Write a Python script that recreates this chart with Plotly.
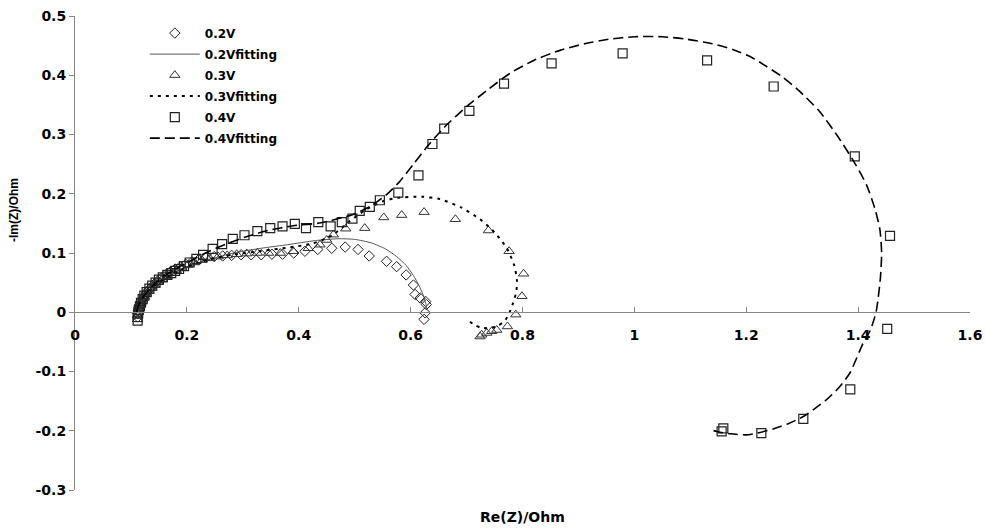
import plotly.graph_objects as go

# ---- measured impedance data (Re(Z), -Im(Z)) in Ohm ----
re_02 = [0.112, 0.112, 0.113, 0.114, 0.116, 0.118, 0.121, 0.124, 0.128, 0.132,
         0.137, 0.142, 0.148, 0.155, 0.162, 0.170, 0.179, 0.188, 0.198, 0.209,
         0.221, 0.234, 0.249, 0.264, 0.280, 0.297, 0.315, 0.333, 0.352, 0.371,
         0.391, 0.411, 0.434, 0.459, 0.483, 0.506, 0.526, 0.557, 0.575, 0.592,
         0.605, 0.608, 0.617, 0.627, 0.628, 0.626, 0.624]
im_02 = [-0.008, -0.002, 0.003, 0.008, 0.013, 0.018, 0.023, 0.028, 0.033, 0.038,
         0.043, 0.048, 0.053, 0.058, 0.063, 0.068, 0.073, 0.077, 0.081, 0.085,
         0.089, 0.092, 0.094, 0.095, 0.096, 0.097, 0.097, 0.097, 0.098, 0.098,
         0.100, 0.103, 0.106, 0.108, 0.110, 0.106, 0.095, 0.086, 0.077, 0.063,
         0.046, 0.030, 0.024, 0.018, 0.013, -0.001, -0.012]

re_03 = [0.112, 0.112, 0.113, 0.114, 0.116, 0.118, 0.121, 0.124, 0.128, 0.132,
         0.137, 0.143, 0.149, 0.156, 0.164, 0.172, 0.181, 0.191, 0.202, 0.214,
         0.227, 0.241, 0.256, 0.272, 0.289, 0.307, 0.326, 0.346, 0.367, 0.390,
         0.417, 0.438, 0.450, 0.462, 0.484, 0.518, 0.552, 0.584, 0.624, 0.680,
         0.739, 0.776, 0.802, 0.799, 0.788, 0.773, 0.754, 0.745, 0.736, 0.727,
         0.724]
im_03 = [-0.012, -0.006, 0.000, 0.006, 0.011, 0.016, 0.021, 0.026, 0.031, 0.036,
         0.041, 0.046, 0.051, 0.056, 0.061, 0.066, 0.071, 0.075, 0.080, 0.084,
         0.088, 0.091, 0.094, 0.096, 0.098, 0.099, 0.100, 0.100, 0.100, 0.103,
         0.108, 0.114, 0.122, 0.131, 0.141, 0.142, 0.160, 0.164, 0.169, 0.157,
         0.138, 0.103, 0.065, 0.027, -0.004, -0.024, -0.030, -0.032, -0.035, -0.038,
         -0.041]

re_04 = [0.112, 0.112, 0.113, 0.114, 0.116, 0.118, 0.121, 0.124, 0.128, 0.133,
         0.138, 0.144, 0.150, 0.157, 0.165, 0.172, 0.179, 0.186, 0.195, 0.205,
         0.217, 0.229, 0.246, 0.263, 0.282, 0.303, 0.326, 0.349, 0.371, 0.393,
         0.413, 0.435, 0.457, 0.477, 0.496, 0.509, 0.527, 0.545, 0.578, 0.614,
         0.639, 0.660, 0.705, 0.767, 0.852, 0.979, 1.130, 1.249, 1.394, 1.457,
         1.452, 1.386, 1.302, 1.227, 1.159, 1.156]
im_04 = [-0.014, -0.008, -0.002, 0.004, 0.010, 0.016, 0.022, 0.028, 0.034, 0.040,
         0.045, 0.050, 0.055, 0.059, 0.063, 0.066, 0.070, 0.073, 0.078, 0.084,
         0.090, 0.097, 0.107, 0.115, 0.124, 0.130, 0.137, 0.142, 0.145, 0.149,
         0.142, 0.152, 0.145, 0.152, 0.158, 0.171, 0.178, 0.189, 0.202, 0.231,
         0.284, 0.310, 0.340, 0.386, 0.420, 0.437, 0.425, 0.381, 0.263, 0.129,
         -0.028, -0.130, -0.180, -0.204, -0.196, -0.201]

# ---- equivalent-circuit fitting curves ----
re_fit02 = [0.110, 0.113, 0.118, 0.126, 0.136, 0.149, 0.165, 0.185, 0.210, 0.240,
            0.270, 0.300, 0.340, 0.380, 0.430, 0.470, 0.500, 0.530, 0.555, 0.575,
            0.592, 0.605, 0.615, 0.622, 0.627, 0.629]
im_fit02 = [0.000, 0.010, 0.020, 0.030, 0.040, 0.050, 0.060, 0.070, 0.080, 0.089,
            0.097, 0.103, 0.109, 0.114, 0.121, 0.124, 0.123, 0.117, 0.107, 0.094,
            0.079, 0.062, 0.045, 0.030, 0.015, 0.006]

re_fit03 = [0.110, 0.113, 0.118, 0.126, 0.136, 0.149, 0.165, 0.185, 0.210, 0.240,
            0.280, 0.330, 0.380, 0.425, 0.460, 0.486, 0.520, 0.550, 0.575, 0.620,
            0.652, 0.690, 0.724, 0.750, 0.772, 0.785, 0.790, 0.789, 0.783, 0.776,
            0.768, 0.755, 0.740, 0.725, 0.712, 0.702]
im_fit03 = [0.000, 0.010, 0.020, 0.030, 0.040, 0.050, 0.060, 0.070, 0.080, 0.089,
            0.097, 0.103, 0.109, 0.116, 0.130, 0.150, 0.173, 0.187, 0.193, 0.195,
            0.191, 0.177, 0.157, 0.135, 0.108, 0.080, 0.055, 0.035, 0.015, -0.002,
            -0.015, -0.023, -0.027, -0.026, -0.020, -0.013]

re_fit04 = [0.110, 0.113, 0.118, 0.125, 0.134, 0.145, 0.158, 0.174, 0.193, 0.215,
            0.240, 0.270, 0.305, 0.345, 0.390, 0.440, 0.497, 0.530, 0.555, 0.580,
            0.605, 0.630, 0.660, 0.700, 0.740, 0.777, 0.820, 0.867, 0.910, 0.956,
            1.000, 1.050, 1.093, 1.140, 1.177, 1.210, 1.236, 1.265, 1.293, 1.330,
            1.365, 1.395, 1.415, 1.430, 1.439, 1.442, 1.440, 1.436, 1.432, 1.422,
            1.409, 1.385, 1.365, 1.343, 1.322, 1.302, 1.275, 1.248, 1.220, 1.200,
            1.171, 1.150, 1.135]
im_fit04 = [0.000, 0.010, 0.020, 0.030, 0.040, 0.050, 0.060, 0.070, 0.080, 0.091,
            0.103, 0.115, 0.127, 0.138, 0.146, 0.151, 0.165, 0.180, 0.197, 0.220,
            0.250, 0.280, 0.312, 0.347, 0.377, 0.403, 0.425, 0.442, 0.453, 0.461,
            0.465, 0.465, 0.461, 0.453, 0.443, 0.430, 0.415, 0.397, 0.375, 0.340,
            0.295, 0.250, 0.215, 0.175, 0.139, 0.100, 0.060, 0.025, 0.000, -0.030,
            -0.052, -0.103, -0.128, -0.148, -0.163, -0.176, -0.188, -0.197, -0.204, -0.207,
            -0.205, -0.202, -0.198]

x_ticks = [0, 0.2, 0.4, 0.6, 0.8, 1, 1.2, 1.4, 1.6]
y_ticks = [-0.3, -0.2, -0.1, 0, 0.1, 0.2, 0.3, 0.4, 0.5]

FONT = "DejaVu Sans"
AXIS_GREY = "#868686"
MARK = "#222222"

fig = go.Figure()

fig.add_trace(go.Scatter(
    x=re_02, y=im_02, mode="markers", name="0.2V", legendgroup="a",
    marker=dict(symbol="diamond-open", size=8, color=MARK, line=dict(width=1, color=MARK)),
))
fig.add_trace(go.Scatter(
    x=re_fit02, y=im_fit02, mode="lines", name="0.2Vfitting", legendgroup="b",
    line=dict(color="#555555", width=1, shape="spline", smoothing=0.6),
))
fig.add_trace(go.Scatter(
    x=re_03, y=im_03, mode="markers", name="0.3V", legendgroup="c",
    marker=dict(symbol="triangle-up-open", size=9, color="#333333", line=dict(width=1, color="#333333")),
))
fig.add_trace(go.Scatter(
    x=re_fit03, y=im_fit03, mode="lines", name="0.3Vfitting", legendgroup="d",
    line=dict(color="black", width=2, dash="3px,5px", shape="spline", smoothing=0.6),
))
fig.add_trace(go.Scatter(
    x=re_04, y=im_04, mode="markers", name="0.4V", legendgroup="e",
    marker=dict(symbol="square-open", size=9, color=MARK, line=dict(width=1.2, color=MARK)),
))
fig.add_trace(go.Scatter(
    x=re_fit04, y=im_fit04, mode="lines", name="0.4Vfitting", legendgroup="f",
    line=dict(color="black", width=1.6, dash="10px,5px", shape="spline", smoothing=0.6),
))

fig.update_layout(
    width=985, height=529,
    margin=dict(l=75, r=15, t=16, b=39, autoexpand=False),
    paper_bgcolor="white", plot_bgcolor="white",
    font=dict(family=FONT, size=14, color="black", weight="bold"),
    showlegend=True,
    legend=dict(
        x=0.078, y=0.9945, xanchor="left", yanchor="top",
        bgcolor="rgba(0,0,0,0)", borderwidth=0,
        font=dict(family=FONT, size=12, color="black", weight="bold"),
        itemwidth=50, traceorder="grouped", tracegroupgap=2,
    ),
    xaxis=dict(
        range=[0, 1.6], tickvals=x_ticks, ticktext=[f"{v:g}" for v in x_ticks],
        anchor="free", position=0.375, automargin=False,
        showline=True, linecolor=AXIS_GREY, linewidth=1,
        ticks="inside", ticklen=5, tickcolor=AXIS_GREY, tickwidth=1,
        ticklabelstandoff=10,
        showgrid=False, zeroline=False,
        tickfont=dict(family=FONT, size=14, color="black", weight="bold"),
    ),
    yaxis=dict(
        range=[-0.3, 0.5], tickvals=y_ticks, ticktext=[f"{v:g}" for v in y_ticks],
        automargin=False,
        showline=True, linecolor=AXIS_GREY, linewidth=1,
        ticks="outside", ticklen=5, tickcolor=AXIS_GREY, tickwidth=1,
        showgrid=False, zeroline=False,
        tickfont=dict(family=FONT, size=14, color="black", weight="bold"),
    ),
    annotations=[
        dict(
            text="Re(Z)/Ohm", x=0.5, y=-0.035, xref="paper", yref="paper",
            xanchor="center", yanchor="top", showarrow=False,
            font=dict(family=FONT, size=14, color="black", weight="bold"),
        ),
        dict(
            text="-Im(Z)/Ohm", x=-0.068, y=0.591, xref="paper", yref="paper",
            xanchor="center", yanchor="middle", showarrow=False, textangle=-90,
            font=dict(family="Liberation Sans, Arial", size=12, color="black", weight="bold"),
        ),
    ],
)

fig.write_html("out.html")
